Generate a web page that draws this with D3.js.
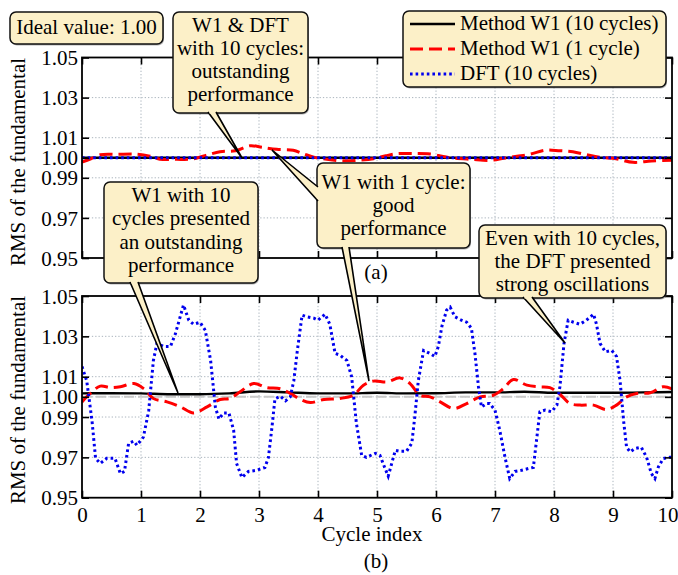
<!DOCTYPE html>
<html><head><meta charset="utf-8">
<script src="https://cdn.jsdelivr.net/npm/d3@7"></script>
</head><body style="margin:0;background:#fff">
<svg id="c" width="678" height="575" font-family="Liberation Serif"></svg>
<script>
// ---------- data ----------
const xTicks = [0,1,2,3,4,5,6,7,8,9,10];
const yTicks = [0.95,0.97,0.99,1.00,1.01,1.03,1.05];
const yTickLabels = ["0.95","0.97","0.99","1.00","1.01","1.03","1.05"];
const seriesNames = ["Method W1 (10 cycles)","Method W1 (1 cycle)","DFT (10 cycles)"];

// panel (a)
const aW1x10 = [[0,1.0],[10,1.0]];
const aDFT = [[0,1.0],[10,1.0]];
const aW1x1 = [[0,0.9978],[0.15,0.9995],[0.31,1.0015],[0.6,1.0017],[0.93,1.0018],[1.15,1.0008],[1.32,0.9993],[1.6,0.9992],[1.88,0.9994],[2.1,1.0012],[2.34,1.003],[2.6,1.0035],[2.85,1.006],[3.05,1.0052],[3.3,1.0042],[3.58,1.0037],[3.75,1.002],[3.93,1.0003],[4.15,0.9992],[4.4,0.9985],[4.7,0.9988],[4.94,0.9995],[5.15,1.001],[5.34,1.002],[5.6,1.0021],[5.9,1.0019],[6.1,1.0008],[6.24,1.0],[6.6,0.9992],[6.92,0.9987],[7.15,0.9997],[7.37,1.0007],[7.6,1.0018],[7.85,1.0038],[8.1,1.0035],[8.32,1.003],[8.55,1.0015],[8.78,1.0002],[9.05,0.9995],[9.34,0.9977],[9.65,0.9984],[10,0.9987]];

// panel (b)
const bW1x10 = [[0,1.0017],[0.5,1.0018],[1,1.0017],[1.5,1.0013],[2,1.0013],[2.5,1.0017],[3,1.0027],[3.5,1.0022],[4,1.0017],[4.5,1.0017],[5,1.002],[5.5,1.0017],[6,1.0018],[6.5,1.0022],[7,1.0022],[7.5,1.0025],[8,1.002],[8.5,1.002],[9,1.002],[9.5,1.0022],[10,1.0024]];
const bW1x1 = [[0,0.9975],[0.14,1.0017],[0.31,1.0053],[0.48,1.0046],[0.65,1.005],[0.88,1.0066],[1.05,1.004],[1.21,0.9992],[1.44,0.9975],[1.67,0.995],[1.89,0.992],[2.12,0.995],[2.34,0.9987],[2.51,0.9992],[2.68,1.0025],[2.91,1.0066],[3.13,1.0046],[3.36,1.004],[3.53,1.0017],[3.7,0.9988],[3.87,0.9972],[4.1,0.9987],[4.37,0.9992],[4.6,1.0008],[4.77,1.0058],[4.94,1.0078],[5.17,1.0074],[5.39,1.0094],[5.56,1.0066],[5.73,1.0008],[5.9,1.0],[6.07,0.9975],[6.3,0.9942],[6.52,0.9967],[6.75,1.0],[6.97,1.0008],[7.14,1.004],[7.31,1.0086],[7.54,1.0058],[7.76,1.005],[7.93,1.0046],[8.1,1.0013],[8.27,0.9967],[8.44,0.9959],[8.67,0.9959],[8.89,0.9937],[9.06,0.9959],[9.23,1.0],[9.4,1.0017],[9.63,1.002],[9.85,1.005],[10,1.004]];
const bDFT = [[0,1.015],[0.08,1.008],[0.17,0.988],[0.23,0.9695],[0.31,0.967],[0.42,0.9695],[0.56,0.9695],[0.65,0.962],[0.72,0.963],[0.79,0.977],[0.88,0.978],[0.93,0.976],[1.04,0.98],[1.13,0.993],[1.21,1.018],[1.27,1.0265],[1.38,1.025],[1.5,1.025],[1.58,1.031],[1.72,1.0455],[1.81,1.038],[1.89,1.036],[2.0,1.037],[2.09,1.033],[2.18,1.018],[2.26,0.995],[2.32,0.989],[2.4,0.992],[2.49,0.992],[2.57,0.9835],[2.62,0.967],[2.71,0.96],[2.82,0.963],[2.96,0.9636],[3.1,0.965],[3.16,0.97],[3.22,0.985],[3.27,0.999],[3.36,1.0003],[3.45,0.998],[3.53,1.0],[3.59,1.008],[3.65,1.023],[3.73,1.0405],[3.81,1.0397],[3.93,1.039],[4.0,1.038],[4.12,1.041],[4.2,1.036],[4.29,1.0215],[4.37,1.0207],[4.49,1.018],[4.57,1.01],[4.65,0.987],[4.74,0.971],[4.82,0.97],[4.97,0.972],[5.05,0.971],[5.13,0.965],[5.19,0.9607],[5.25,0.967],[5.31,0.9735],[5.39,0.973],[5.5,0.973],[5.59,0.977],[5.64,0.99],[5.7,1.008],[5.79,1.023],[5.9,1.0215],[5.98,1.02],[6.04,1.025],[6.1,1.035],[6.18,1.043],[6.24,1.0445],[6.32,1.0397],[6.43,1.038],[6.52,1.037],[6.6,1.034],[6.66,1.0215],[6.72,1.005],[6.77,0.995],[6.86,0.9967],[6.91,0.9967],[7.0,0.9934],[7.08,0.9835],[7.17,0.97],[7.25,0.9595],[7.34,0.963],[7.45,0.9636],[7.57,0.9645],[7.65,0.965],[7.71,0.98],[7.76,0.9926],[7.85,0.9934],[7.96,0.9926],[8.05,0.996],[8.1,1.005],[8.17,1.0265],[8.24,1.038],[8.33,1.037],[8.44,1.036],[8.55,1.038],[8.67,1.041],[8.72,1.036],[8.78,1.0265],[8.87,1.0223],[8.98,1.023],[9.06,1.02],[9.12,1.008],[9.18,0.988],[9.23,0.975],[9.29,0.9727],[9.37,0.9744],[9.48,0.975],[9.57,0.97],[9.65,0.962],[9.71,0.9595],[9.77,0.9653],[9.85,0.9694],[9.96,0.97],[10,0.97]];
const idealValue = 1.00;

// annotation texts
const noteIdeal = ["Ideal value: 1.00"];
const noteA1 = ["W1 & DFT","with 10 cycles:","outstanding","performance"];
const noteA2 = ["W1 with 1 cycle:","good","performance"];
const noteB1 = ["W1 with 10","cycles presented","an outstanding","performance"];
const noteB2 = ["Even with 10 cycles,","the DFT presented","strong oscillations"];

// ---------- drawing ----------
const svg = d3.select("#c");
const FONT = "Liberation Serif";
const FS = 21;
const BOX_FILL = "#fcf0c8";
const left = 82, right = 672;
const x = d3.scaleLinear().domain([0,10]).range([left,right]);
const panels = [
  {top:57.5, bottom:258, labelY:162, tag:"(a)", tagY:279, xlabels:false},
  {top:296, bottom:497.7, labelY:400, tag:"(b)", tagY:568, xlabels:true}
];
panels.forEach(p => p.y = d3.scaleLinear().domain([0.95,1.05]).range([p.bottom,p.top]));

const styles = [
  {stroke:"#000", width:2.4, dash:null},
  {stroke:"#f00", width:3, dash:"13,6"},
  {stroke:"#0000ee", width:3, dash:"2.6,3"}
];

function txt(sel, x0, y0, s, anchor) {
  return sel.append("text").attr("x",x0).attr("y",y0).attr("font-family",FONT).attr("font-size",FS)
    .attr("fill","#000").attr("text-anchor",anchor||"middle").text(s);
}

function drawPanel(p, data, idealLine) {
  const g = svg.append("g");
  const y = p.y;
  xTicks.slice(1,-1).forEach(t => g.append("line").attr("x1",x(t)).attr("x2",x(t)).attr("y1",p.top).attr("y2",p.bottom)
    .attr("stroke","#aab4bd").attr("stroke-width",1).attr("stroke-dasharray","1.3,2"));
  yTicks.slice(1,-1).forEach(t => g.append("line").attr("x1",left).attr("x2",right).attr("y1",y(t)).attr("y2",y(t))
    .attr("stroke","#aab4bd").attr("stroke-width",1).attr("stroke-dasharray","1.3,2"));
  if (idealLine) g.append("line").attr("x1",left).attr("x2",right).attr("y1",y(idealValue)).attr("y2",y(idealValue))
    .attr("stroke","#c8c8c8").attr("stroke-width",2).attr("stroke-dasharray","10,4");
  const clipId = "clip"+p.tag.replace(/\W/g,"");
  svg.append("clipPath").attr("id",clipId).append("rect").attr("x",left).attr("y",p.top-3).attr("width",right-left).attr("height",p.bottom-p.top+6);
  const curves = [d3.curveMonotoneX, d3.curveCatmullRom, d3.curveLinear];
  data.forEach((d,i) => {
    const line = d3.line().x(v=>x(v[0])).y(v=>y(v[1])).curve(curves[i]);
    g.append("path").attr("d",line(d)).attr("fill","none").attr("stroke",styles[i].stroke)
      .attr("stroke-width",styles[i].width).attr("stroke-dasharray",styles[i].dash).attr("clip-path",`url(#${clipId})`);
  });
  const axL = d3.axisLeft(y).tickValues(yTicks).tickSize(-7).tickPadding(10).tickFormat((d,i)=>yTickLabels[i]);
  const gl = g.append("g").attr("transform",`translate(${left},0)`).call(axL);
  const axR = d3.axisRight(y).tickValues(yTicks).tickSize(-7).tickFormat("");
  g.append("g").attr("transform",`translate(${right},0)`).call(axR);
  const axB = d3.axisBottom(x).tickValues(xTicks).tickSize(-7).tickPadding(14).tickFormat(p.xlabels ? d3.format("d") : "");
  const gb = g.append("g").attr("transform",`translate(0,${p.bottom})`).call(axB);
  const axT = d3.axisTop(x).tickValues(xTicks).tickSize(-7).tickFormat("");
  g.append("g").attr("transform",`translate(0,${p.top})`).call(axT);
  g.selectAll("g").attr("font-family",FONT).attr("font-size",FS);
  g.selectAll(".domain").remove();
  g.selectAll(".tick line").attr("stroke","#000").attr("stroke-width",1.6);
  g.selectAll(".tick text").attr("font-size",FS).attr("font-family",FONT).attr("fill","#000");
  gl.selectAll(".tick text").attr("dy","0.34em").attr("x",-4);
  gb.selectAll(".tick text").attr("dy","0.71em").attr("y",9);
  // keep the last x label inside the page
  gb.selectAll(".tick text").filter(d=>d===10).attr("text-anchor","end").attr("dx",6);
  g.append("rect").attr("x",left).attr("y",p.top).attr("width",right-left).attr("height",p.bottom-p.top)
    .attr("fill","none").attr("stroke","#000").attr("stroke-width",1.8);
  txt(svg, 0, 0, "RMS of the fundamental").attr("transform",`translate(25,${p.labelY}) rotate(-90)`);
  txt(svg, 376, p.tagY, p.tag);
}

drawPanel(panels[0], [aW1x10, aW1x1, aDFT], false);
drawPanel(panels[1], [bW1x10, bW1x1, bDFT], true);
txt(svg, 372, 541, "Cycle index");

function wedge(b1, b2, tip) {
  svg.append("path").attr("d",`M${b1[0]},${b1[1]}L${tip[0]},${tip[1]}L${b2[0]},${b2[1]}`)
    .attr("fill",BOX_FILL).attr("stroke","#000").attr("stroke-width",1.6).attr("stroke-linejoin","miter");
}
function box(x0,y0,x1,y1,lines,cx,firstBase,lh) {
  svg.append("rect").attr("x",x0+1).attr("y",y0+1.5).attr("width",x1-x0).attr("height",y1-y0).attr("rx",6)
    .attr("fill","#555").attr("opacity",0.45);
  svg.append("rect").attr("x",x0).attr("y",y0).attr("width",x1-x0).attr("height",y1-y0).attr("rx",6)
    .attr("fill",BOX_FILL).attr("stroke","#111").attr("stroke-width",1.5);
  lines.forEach((t,i)=>txt(svg, cx, firstBase+i*lh, t));
}
function patchBase(b1,b2){
  svg.append("path").attr("d",`M${b1[0]},${b1[1]}L${b2[0]},${b2[1]}`).attr("stroke",BOX_FILL).attr("stroke-width",2.2);
}

box(10,12,163,44,noteIdeal,86.5,34,23);

box(173,12,308,113,noteA1,240.5,32,23);
wedge([208,112],[216,112],[242,158]); patchBase([209.5,112.5],[214.5,112.5]);

box(317,163,470,248,noteA2,393.5,189,23);
wedge([318,187],[318,201],[272,150]); patchBase([318,189],[318,199]);
wedge([342,247],[349,247],[369,381]); patchBase([343.5,247.5],[347.5,247.5]);

box(104,182,258,283,noteB1,181,202,23.3);
wedge([130,282],[138,282],[178,393]); patchBase([131.5,282.5],[136.5,282.5]);

box(479,225,666,298,noteB2,572.5,245,23);
wedge([523,297],[532,297],[565,343]); patchBase([524.5,297.5],[530.5,297.5]);

svg.append("rect").attr("x",404).attr("y",12.5).attr("width",263).attr("height",76).attr("rx",6).attr("fill","#555").attr("opacity",0.45);
svg.append("rect").attr("x",403).attr("y",11).attr("width",263).attr("height",76).attr("rx",6)
  .attr("fill",BOX_FILL).attr("stroke","#111").attr("stroke-width",1.5);
seriesNames.forEach((n,i)=>{
  const ly = 24 + i*25;
  svg.append("line").attr("x1",410).attr("x2",455).attr("y1",ly).attr("y2",ly).attr("stroke",styles[i].stroke)
    .attr("stroke-width",styles[i].width).attr("stroke-dasharray",styles[i].dash);
  txt(svg, 460, ly+6, n, "start");
});
</script>
</body></html>
